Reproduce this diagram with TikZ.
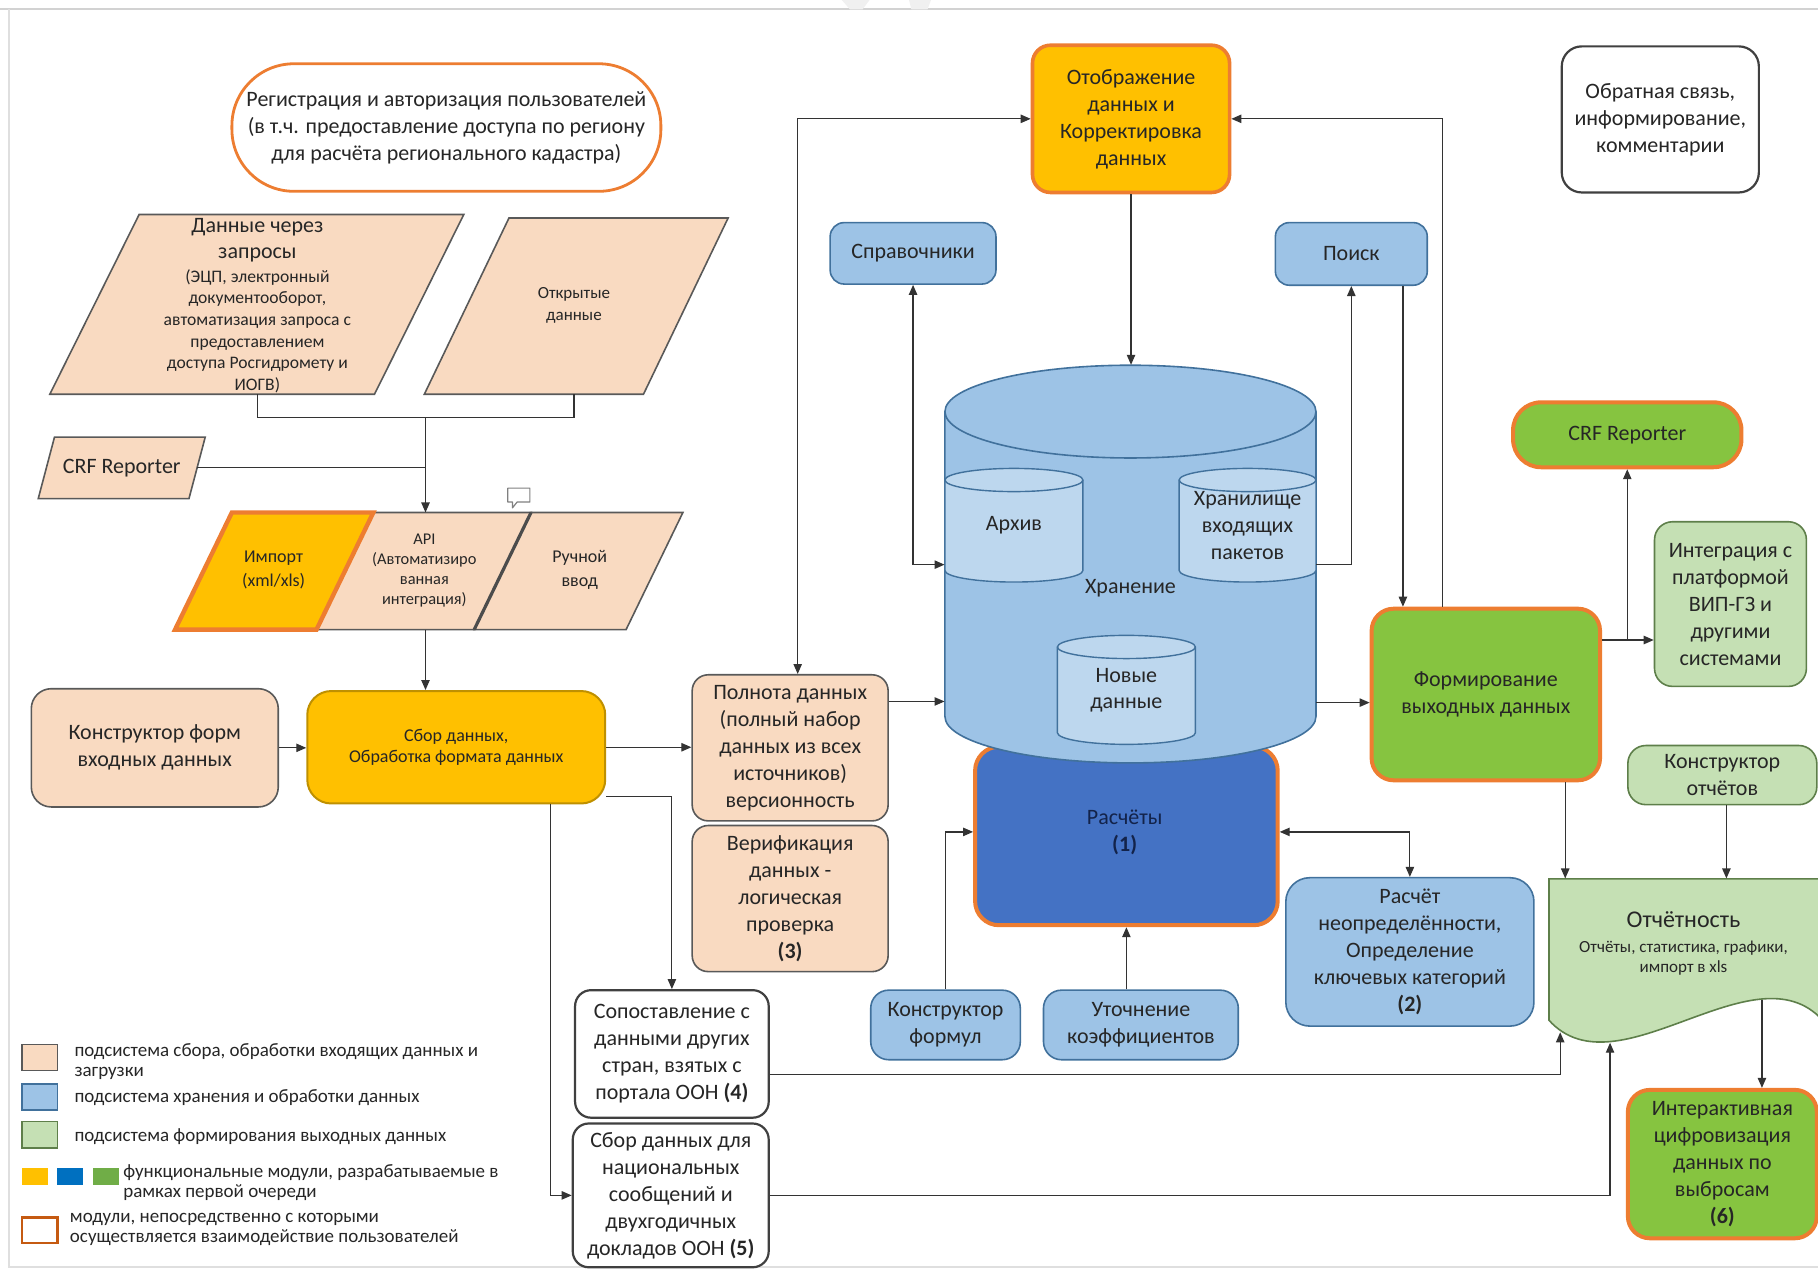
\documentclass[tikz,border=0pt]{standalone}
\usepackage{fontspec}
\setmainfont{Carlito}
\usetikzlibrary{arrows.meta,calc}
\definecolor{peach}{HTML}{F9DAC1}
\definecolor{pborder}{HTML}{595959}
\definecolor{lblue}{HTML}{9DC3E6}
\definecolor{bborder}{HTML}{41719C}
\definecolor{cylin}{HTML}{BDD7EE}
\definecolor{dblue}{HTML}{4472C4}
\definecolor{oborder}{HTML}{ED7D31}
\definecolor{dorange}{HTML}{C55A11}
\definecolor{yel}{HTML}{FFC000}
\definecolor{yborder}{HTML}{BF9000}
\definecolor{grn}{HTML}{86C440}
\definecolor{lgrn}{HTML}{C5E0B4}
\definecolor{gborder}{HTML}{5E7F4A}
\definecolor{lin}{HTML}{333333}
\definecolor{txt}{HTML}{262626}
\definecolor{navy}{HTML}{13234A}
\definecolor{dgray}{HTML}{404040}
\definecolor{mblue}{HTML}{0070C0}
\definecolor{mgrn}{HTML}{70AD47}
\begin{document}
\begin{tikzpicture}[x=0.58pt,y=-0.58pt,
  every node/.style={text=txt},
  box/.style={draw, align=center, inner sep=0pt, text=txt},
  wh/.style 2 args={minimum width=#1*0.58pt, minimum height=#2*0.58pt},
  fm/.style={font=\fontsize{11}{13.5}\selectfont},
  pbox/.style={box, fm, fill=peach, draw=pborder, line width=0.8pt, rounded corners=8pt},
  bbox/.style={box, fm, fill=lblue, draw=bborder, line width=0.8pt, rounded corners=7pt},
  wbox/.style={box, fm, fill=white, draw=dgray, line width=1.1pt, rounded corners=8pt},
  lbl/.style={inner sep=0pt, align=center},
  lgt/.style={inner sep=0pt, align=left, anchor=west, font=\fontsize{9.5}{10.3}\selectfont},
  pshape/.style={fill=peach, draw=pborder, line width=0.8pt},
  con/.style={draw=lin, line width=0.6pt},
  arr/.style={con, -{Triangle[length=5pt,width=4.2pt]}},
  barr/.style={con, {Triangle[length=5pt,width=4.2pt]}-{Triangle[length=5pt,width=4.2pt]}},
]
\useasboundingbox (0,0) rectangle (1568,1094);

% frame and faint marks
\draw[gray!35, line width=0.8pt] (0,8) -- (1568,8);
\draw[gray!25, line width=0.8pt] (7.7,8) -- (7.7,1093) -- (1568,1093);
\fill[gray!12] (726,0) -- (750,0) -- (744,8) -- (733,8) -- cycle;
\fill[gray!12] (784,0) -- (803,0) -- (800,8) -- (786,8) -- cycle;

% registration
\node[box, fm, wh={370}{110}, rounded corners=31pt, draw=oborder, line width=1.4pt, fill=white] (reg) at (385,110)
  {Регистрация и авторизация пользователей\\(в т.ч. предоставление доступа по региону\\для расчёта регионального кадастра)};

% input parallelograms
\filldraw[pshape] (120,185) -- (400,185) -- (323,340) -- (43,340) -- cycle;
\coordinate (zaprB) at (222,340);
\node[lbl, font=\fontsize{11}{12.8}\selectfont] (zapr) at (222,207) {Данные через\\запросы};
\node[lbl, font=\fontsize{8.8}{10.8}\selectfont] (zaprS) at (222,285.5) {(ЭЦП, электронный\\документооборот,\\автоматизация запроса с\\предоставлением\\доступа Росгидромету и\\ИОГВ)};

\filldraw[pshape] (439,188) -- (628,188) -- (555,340) -- (366,340) -- cycle;
\coordinate (otkrB) at (495,340);
\node[lbl, font=\fontsize{8.5}{11}\selectfont] (otkr) at (495,263.5) {Открытые\\данные};

\filldraw[pshape] (47,377) -- (177,377) -- (163,430) -- (33,430) -- cycle;
\node[lbl, font=\fontsize{11}{13}\selectfont] (crfL) at (105,403.5) {CRF Reporter};
\coordinate (crfLE) at (170,403.5);

\coordinate (jn) at (367,360);
\coordinate (apiT) at (367,442);
\coordinate (apiB) at (367,543);

\filldraw[pshape] (322,442) -- (458,442) -- (409,543) -- (273,543) -- cycle;
\filldraw[pshape] (458,442) -- (589,442) -- (540,543) -- (409,543) -- cycle;
\draw[line width=1.6pt, draw=gray!60!black] (458,442) -- (409,543);
\filldraw[fill=yel, draw=oborder, line width=2.2pt] (200,442) -- (322,442) -- (273,543) -- (151,543) -- cycle;
\node[lbl, font=\fontsize{9}{12}\selectfont] (imp) at (236,491.5) {Импорт\\(xml/xls)};
\node[lbl, font=\fontsize{8.2}{9.9}\selectfont] (api) at (366,492) {API\\(Автоматизиро\\ванная\\интеграция)};
\node[lbl, font=\fontsize{9}{12}\selectfont] (ruch) at (500,491.5) {Ручной\\ввод};

% speech bubble icon
\draw[gray, line width=0.6pt, line join=round] (438,421) -- (457,421) -- (457,433) -- (446,433) -- (442,438) -- (442,433) -- (438,433) -- cycle;

% left column boxes
\node[pbox, wh={213}{102}, rounded corners=10pt] (konstr) at (133.5,645) {Конструктор форм\\входных данных};
\node[box, wh={257}{97}, fill=yel, draw=yborder, line width=1pt, rounded corners=12pt, font=\fontsize{9}{10.4}\selectfont] (sbor) at (393.5,644.5) {Сбор данных,\\Обработка формата данных};
\node[pbox, wh={169}{126}] (poln) at (681.5,645) {Полнота данных\\(полный набор\\данных из всех\\источников)\\версионность};
\node[pbox, wh={169}{126}] (verif) at (681.5,775) {Верификация\\данных -\\логическая\\проверка\\\textbf{(3)}};
\node[wbox, wh={167}{110}] (sopost) at (579.5,909) {Сопоставление с\\данными других\\стран, взятых с\\портала ООН \textbf{(4)}};
\node[wbox, wh={169}{124}] (sborun) at (578.5,1031) {Сбор данных для\\национальных\\сообщений и\\двухгодичных\\докладов ООН \textbf{(5)}};

% top boxes
\node[box, fm, wh={170}{127}, fill=yel, draw=oborder, line width=1.8pt, rounded corners=9pt] (otobr) at (975.5,102.5) {Отображение\\данных и\\Корректировка\\данных};
\node[wbox, wh={170}{126}, rounded corners=10pt] (feed) at (1432,103) {Обратная связь,\\информирование,\\комментарии};
\node[bbox, wh={143}{53}] (sprav) at (787.5,218.5) {Справочники};
\node[bbox, wh={131}{54}] (poisk) at (1165.5,219) {Поиск};

% calculations (behind cylinder)
\node[box, wh={261}{154}, fill=dblue, draw=oborder, line width=2pt, rounded corners=12pt] (rasch) at (971.5,721) {};
\node[lbl, fm, text=navy] (raschT) at (970,718) {Расчёты\\\textbf{(1)}};

% storage cylinder
\node[inner sep=0pt, wh={320}{343}] (stor) at (975,486.5) {};
\filldraw[fill=lblue, draw=bborder, line width=0.8pt] (815,355) -- (815,618)
  arc[start angle=180, end angle=360, x radius=92.8pt, y radius=23.2pt] -- (1135,355)
  arc[start angle=0, end angle=180, x radius=92.8pt, y radius=23.2pt] -- cycle;
\draw[draw=bborder, line width=0.8pt] (815,355) arc[start angle=180, end angle=360, x radius=92.8pt, y radius=23.2pt];

\filldraw[fill=cylin, draw=bborder, line width=0.7pt] (815,414) -- (815,492)
  arc[start angle=180, end angle=360, x radius=34.51pt, y radius=5.8pt] -- (934,414)
  arc[start angle=0, end angle=180, x radius=34.51pt, y radius=5.8pt] -- cycle;
\draw[draw=bborder, line width=0.7pt] (815,414) arc[start angle=180, end angle=360, x radius=34.51pt, y radius=5.8pt];

\filldraw[fill=cylin, draw=bborder, line width=0.7pt] (1017,414) -- (1017,492)
  arc[start angle=180, end angle=360, x radius=34.22pt, y radius=5.8pt] -- (1135,414)
  arc[start angle=0, end angle=180, x radius=34.22pt, y radius=5.8pt] -- cycle;
\draw[draw=bborder, line width=0.7pt] (1017,414) arc[start angle=180, end angle=360, x radius=34.22pt, y radius=5.8pt];

\filldraw[fill=cylin, draw=bborder, line width=0.7pt] (912,558) -- (912,632)
  arc[start angle=180, end angle=360, x radius=34.51pt, y radius=5.8pt] -- (1031,558)
  arc[start angle=0, end angle=180, x radius=34.51pt, y radius=5.8pt] -- cycle;
\draw[draw=bborder, line width=0.7pt] (912,558) arc[start angle=180, end angle=360, x radius=34.51pt, y radius=5.8pt];

\node[lbl, fm, wh={119}{98}] (arkh) at (874.5,453) {Архив};
\node[lbl, fm, wh={118}{98}] (khran) at (1076,453) {Хранилище\\входящих\\пакетов};
\node[lbl, fm] (storT) at (975,507) {Хранение};
\node[lbl, font=\fontsize{11}{13}\selectfont] (novT) at (971.5,595) {Новые\\данные};

% lower blue boxes
\node[bbox, wh={129}{60}, rounded corners=9pt] (kform) at (815.5,884) {Конструктор\\формул};
\node[bbox, wh={168}{60}, rounded corners=9pt] (utoch) at (984,884) {Уточнение\\коэффициентов};
\node[bbox, wh={214}{128}, rounded corners=12pt] (neopr) at (1216,821) {Расчёт\\неопределённости,\\Определение\\ключевых категорий\\\textbf{(2)}};

% output side
\node[box, fm, wh={197}{148}, fill=grn, draw=oborder, line width=2pt, rounded corners=11pt] (form) at (1281.5,599) {Формирование\\выходных данных};
\node[box, fm, wh={197}{56}, fill=grn, draw=oborder, line width=2pt, rounded corners=14pt] (crfR) at (1403.5,375) {CRF Reporter};
\node[box, fm, wh={131}{142}, fill=lgrn, draw=gborder, line width=0.8pt, rounded corners=9pt] (integ) at (1492.5,521) {Интеграция с\\платформой\\ВИП-ГЗ и\\другими\\системами};
\node[box, fm, wh={163}{51}, fill=lgrn, draw=gborder, line width=0.8pt, rounded corners=9pt] (konotch) at (1485.5,668.5) {Конструктор\\отчётов};

\filldraw[fill=lgrn, draw=gborder, line width=0.8pt] (1336,758) -- (1572,758) -- (1572,880)
  .. controls (1513,815) and (1395,945) .. (1336,880) -- cycle;
\node[inner sep=0pt, wh={236}{122}] (otch) at (1454,819) {};
\node[lbl, font=\fontsize{12}{14}\selectfont] (otchT) at (1452,793.5) {Отчётность};
\node[lbl, font=\fontsize{8.5}{10}\selectfont] (otchS) at (1452,826.5) {Отчёты, статистика, графики,\\импорт в xls};

\node[box, fm, wh={163}{128}, fill=grn, draw=oborder, line width=2pt, rounded corners=11pt] (inter) at (1485.5,1004) {Интерактивная\\цифровизация\\данных по\\выбросам\\\textbf{(6)}};

% connectors
\draw[con] (zaprB) |- (jn) -| (otkrB);
\draw[con] (crfLE) -- (crfLE -| jn);
\draw[arr] (jn) -- (apiT);
\draw[arr] (apiB) -- (apiB |- sbor.north);
\draw[arr] (konstr.east) -- (konstr.east -| sbor.west);
\draw[arr] (sbor.east) -- (sbor.east -| poln.west);
\draw[arr] ($(sbor.south east)+(0,-7)$) -| (sopost.north);
\draw[arr] ($(sbor.south)+(81,0)$) |- (sborun.west);
\draw[barr] ($(poln.north)+(6.5,0)$) |- (otobr.west);
\coordinate (p1) at ($(poln.east)+(0,-40)$);
\draw[arr] (p1) -- (p1 -| stor.west);
\draw[arr] (otobr.south) -- (otobr.south |- stor.north);
\draw[barr] (sprav.south) |- ($(arkh.west)+(0,34)$);
\draw[arr] ($(khran.east)+(0,34)$) -| (poisk.south);
\coordinate (p2) at ($(poisk.south)+(44.5,0)$);
\draw[arr] (p2) -- (p2 |- form.north);
\coordinate (p3) at ($(form.north)+(-37.5,0)$);
\draw[arr] (p3) |- (otobr.east);
\coordinate (p4) at ($(stor.east)+(0,119.5)$);
\draw[arr] (p4) -- (p4 -| form.west);
\coordinate (p5) at ($(form.east)+(0,-47)$);
\draw[arr] (p5) -- (p5 -| integ.west);
\draw[arr] (p5 -| crfR.south) -- (crfR.south);
\coordinate (p6) at ($(form.south)+(68.5,0)$);
\draw[arr] (p6) -- (p6 |- otch.north);
\coordinate (p7) at ($(konotch.south)+(3.5,0)$);
\draw[arr] (p7) -- (p7 |- otch.north);
\draw[arr] ($(sopost.east)+(0,18)$) -| ($(otch.south west)+(10,10)$);
\draw[arr] (sborun.east) -| ($(otch.south west)+(53,19)$);
\coordinate (p8) at ($(otch.south west)+(184,-18)$);
\draw[arr] (p8) -- (p8 |- inter.north);
\draw[arr] (kform.north) |- ($(rasch.west)+(0,-3.5)$);
\draw[arr] (utoch.north -| rasch.south) -- (rasch.south);
\draw[barr] ($(rasch.east)+(0,-3.5)$) -| (neopr.north);

% legend
\node[draw=pborder, fill=peach, line width=0.7pt, inner sep=0pt, wh={30.5}{22.5}] (lg1) at (34.25,912.25) {};
\node[draw=bborder, fill=lblue, line width=0.7pt, inner sep=0pt, wh={30.5}{22.5}] (lg2) at (34.25,946.25) {};
\node[draw=gborder, fill=lgrn, line width=0.7pt, inner sep=0pt, wh={30.5}{22.5}] (lg3) at (34.25,978.75) {};
\node[fill=yel, inner sep=0pt, wh={22.6}{14.4}] (lg4a) at (30.3,1014.8) {};
\node[fill=mblue, inner sep=0pt, wh={22.1}{14.4}] (lg4b) at (60.55,1014.8) {};
\node[fill=mgrn, inner sep=0pt, wh={23}{14.4}] (lg4c) at (91.5,1014.8) {};
\node[draw=dorange, fill=white, line width=1.3pt, inner sep=0pt, wh={30.5}{22}] (lg5) at (34.25,1061) {};
\node[lgt] (lt1) at (64,915.7) {подсистема сбора, обработки входящих данных и\\загрузки};
\node[lgt] (lt2) at (64,947) {подсистема хранения и обработки данных};
\node[lgt] (lt3) at (64,980.4) {подсистема формирования выходных данных};
\node[lgt] (lt4) at (106,1019.8) {функциональные модули, разрабатываемые в\\рамках первой очереди};
\node[lgt] (lt5) at (60,1060.5) {модули, непосредственно с которыми\\осуществляется взаимодействие пользователей};
\end{tikzpicture}
\end{document}
